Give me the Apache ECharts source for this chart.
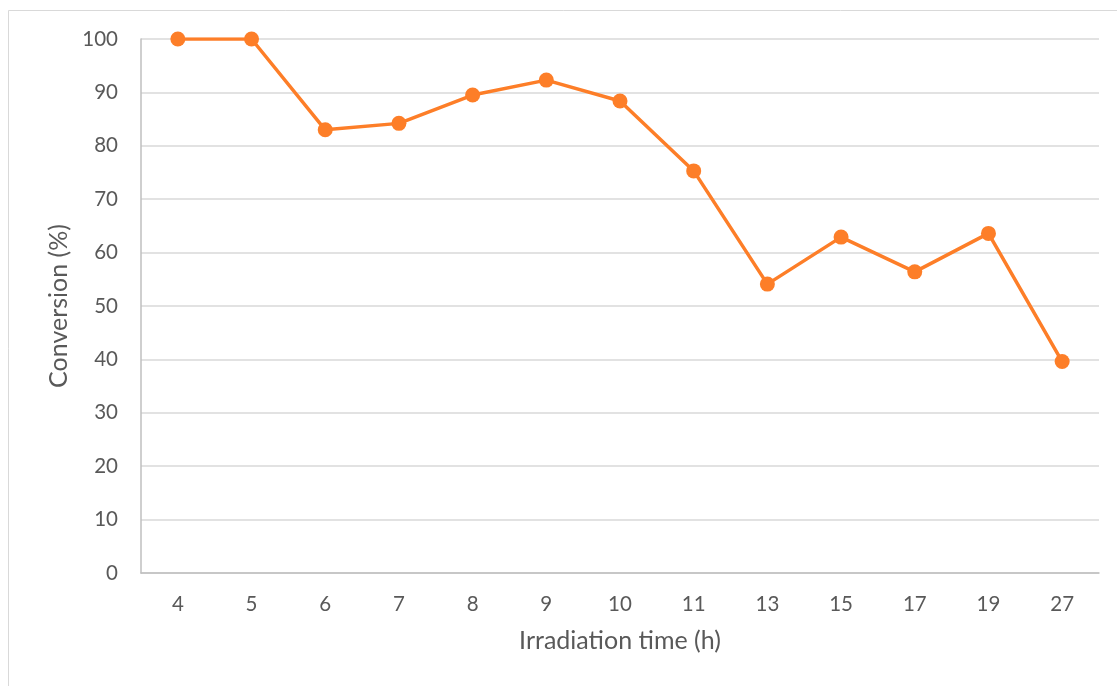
<!DOCTYPE html>
<html>
<head>
<meta charset="utf-8">
<script src="https://cdn.jsdelivr.net/npm/echarts@6/dist/echarts.min.js"></script>
<style>html,body{margin:0;padding:0;background:#fff;}#c{width:1117px;height:686px;}</style>
</head>
<body>
<div id="c"></div>
<script>
const categories = ['4','5','6','7','8','9','10','11','13','15','17','19','27'];
const conversion = [100, 100, 83.0, 84.2, 89.5, 92.3, 88.4, 75.3, 54.1, 62.9, 56.4, 63.6, 39.6];
const yTicks = {min: 0, max: 100, interval: 10};

const chart = echarts.init(document.getElementById('c'), null, {renderer: 'canvas'});
const font = 'Lato, "Open Sans", sans-serif';
chart.setOption({
  animation: false,
  backgroundColor: '#fff',
  graphic: [{
    type: 'rect', silent: true,
    shape: {x: 8.5, y: 10.5, width: 1300, height: 900},
    style: {fill: 'none', stroke: '#d9d9d9', lineWidth: 1}
  }],
  grid: {left: 141, top: 39, right: 18, bottom: 113, containLabel: false},
  xAxis: {
    type: 'category', data: categories, boundaryGap: true,
    name: 'Irradiation time (h)', nameLocation: 'middle', nameGap: 55,
    nameTextStyle: {fontFamily: font, fontSize: 25, color: '#595959'},
    axisLine: {show: true, lineStyle: {color: '#bfbfbf', width: 1.5}},
    axisTick: {show: false},
    axisLabel: {fontFamily: font, fontSize: 20.5, color: '#595959', margin: 21}
  },
  yAxis: {
    type: 'value', min: yTicks.min, max: yTicks.max, interval: yTicks.interval,
    name: 'Conversion (%)', nameLocation: 'middle', nameGap: 68,
    nameTextStyle: {fontFamily: font, fontSize: 25, color: '#595959'},
    axisLine: {show: true, lineStyle: {color: '#bfbfbf', width: 1.5}},
    axisTick: {show: false},
    axisLabel: {fontFamily: font, fontSize: 20.5, color: '#595959', margin: 23},
    splitLine: {lineStyle: {color: '#d9d9d9', width: 1.5}}
  },
  series: [{
    type: 'line', data: conversion,
    symbol: 'circle', symbolSize: 15,
    lineStyle: {color: '#fd7e28', width: 3.5},
    itemStyle: {color: '#fd7e28'}
  }]
});
</script>
</body>
</html>
